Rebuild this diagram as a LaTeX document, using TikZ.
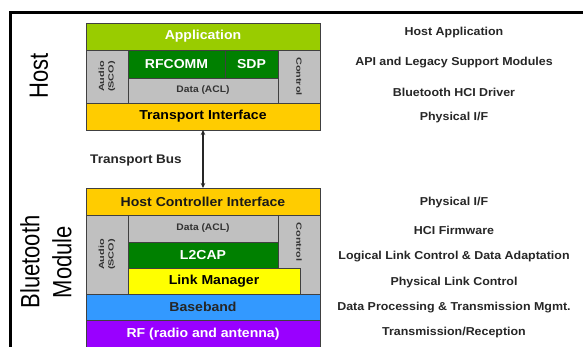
\documentclass[tikz,border=0pt]{standalone}
\usepackage{fontspec}
\setmainfont{Liberation Sans}[FakeStretch=1.08]
\newfontfamily\plainfont{Liberation Sans}
\newfontfamily\tinyfont{Liberation Sans}[FakeStretch=1.45]
\usetikzlibrary{arrows.meta}
\definecolor{appgreen}{RGB}{153,204,0}
\definecolor{dkgreen}{RGB}{0,128,0}
\definecolor{cellgray}{RGB}{192,192,192}
\definecolor{ifaceorange}{RGB}{255,204,0}
\definecolor{lmyellow}{RGB}{255,255,0}
\definecolor{bbblue}{RGB}{51,153,255}
\definecolor{rfpurple}{RGB}{153,0,255}
\tikzset{
  cell/.style={draw=black!75, line width=0.8pt, inner sep=0pt, outer sep=0pt,
    font=\bfseries\fontsize{13}{15}\selectfont},
  graytxt/.style={cell, fill=cellgray, text=black!80, font=\bfseries\fontsize{9.5}{11}\selectfont},
  sidetxt/.style={cell, fill=cellgray, text=black!80, align=center,
    font=\tinyfont\bfseries\fontsize{7.5}{9.5}\selectfont},
  sidelabel/.style={inner sep=0pt, text=black!80, font=\tinyfont\bfseries\fontsize{7.5}{9.5}\selectfont},
  desc/.style={font=\bfseries\fontsize{11.5}{13}\selectfont, text=black!85, inner sep=0pt},
  big/.style={font=\plainfont\fontsize{22}{26.5}\selectfont, rotate=90, align=center, inner sep=0pt}
}
\begin{document}
\begin{tikzpicture}[x=1pt,y=-1pt]
\useasboundingbox (0,0) rectangle (583,347);
% frame
\draw[line width=3pt] (10.5,352) -- (10.5,12.5) -- (590,12.5);
% Host stack
\node[cell, fill=appgreen, text=white, minimum width=234pt, minimum height=27pt] (app) at (203,36.5) {Application};
\node[sidetxt, minimum width=42pt, minimum height=53pt] (audioH) at (107,76.5) {\rotatebox{90}{\begin{tabular}{@{}c@{}}Audio\\(SCO)\end{tabular}}};
\node[cell, fill=dkgreen, text=white, minimum width=97pt, minimum height=28pt] (rfcomm) at (176.5,64) {RFCOMM};
\node[cell, fill=dkgreen, text=white, minimum width=53pt, minimum height=28pt] (sdp) at (251.5,64) {SDP};
\node[graytxt, minimum width=150pt, minimum height=25pt] (dataH) at (203,90.5) {Data (ACL)};
\node[sidetxt, minimum width=42pt, minimum height=53pt] (ctrlH) at (299,76.5) {\rotatebox{-90}{Control}};
\node[cell, fill=ifaceorange, text=black, minimum width=234pt, minimum height=27pt] (ti) at (203,116.5) {Transport Interface};
% Module stack
\node[cell, fill=ifaceorange, text=black!90, minimum width=234pt, minimum height=27pt] (hci) at (203,201.5) {Host Controller Interface};
\node[sidetxt, minimum width=42pt, minimum height=79pt] (audioM) at (107,254.5) {\rotatebox{90}{\begin{tabular}{@{}c@{}}Audio\\(SCO)\end{tabular}}};
\node[graytxt, minimum width=150pt, minimum height=27pt] (dataM) at (203,228.5) {Data (ACL)};
\node[cell, fill=dkgreen, text=white, minimum width=150pt, minimum height=26pt] (l2cap) at (203,255) {L2CAP};
\node[sidetxt, minimum width=42pt, minimum height=79pt] (ctrlM) at (299,254.5) {};
\node[sidelabel] (ctrlMtxt) at (299,242) {\rotatebox{-90}{Control}};
\node[cell, fill=lmyellow, text=black, minimum width=172pt, minimum height=26pt] (lm) at (214,281) {Link Manager};
\node[cell, fill=bbblue, text=black!85, minimum width=234pt, minimum height=26pt] (bb) at (203,307) {Baseband};
\node[cell, fill=rfpurple, text=white, minimum width=234pt, minimum height=28pt] (rf) at (203,334) {RF (radio and antenna)};
% transport bus
\draw[black!85, line width=1.2pt, {Stealth[length=5pt,width=4.5pt]}-{Stealth[length=5pt,width=4.5pt]}] (ti.south) -- (hci.north);
\node[desc, font=\bfseries\fontsize{12.5}{14}\selectfont] (tbus) at (136,160) {Transport Bus};
% side labels
\node[big] (host) at (39,76) {\scalebox{1}[1.2]{Host}};
\node[big] (btm) at (49,262) {\scalebox{1}[1.2]{\begin{tabular}{@{}c@{}}Bluetooth\\Module\end{tabular}}};
% descriptions
\node[desc] (d1) at (454,33) {Host Application};
\node[desc] (d2) at (454,63) {API and Legacy Support Modules};
\node[desc] (d3) at (454,92) {Bluetooth HCI Driver};
\node[desc] (d4) at (454,118) {Physical I/F};
\node[desc] (d5) at (454,203) {Physical I/F};
\node[desc] (d6) at (454,230) {HCI Firmware};
\node[desc] (d7) at (454,257) {Logical Link Control \& Data Adaptation};
\node[desc] (d8) at (454,283) {Physical Link Control};
\node[desc] (d9) at (454,308) {Data Processing \& Transmission Mgmt.};
\node[desc] (d10) at (454,333) {Transmission/Reception};
\end{tikzpicture}
\end{document}
